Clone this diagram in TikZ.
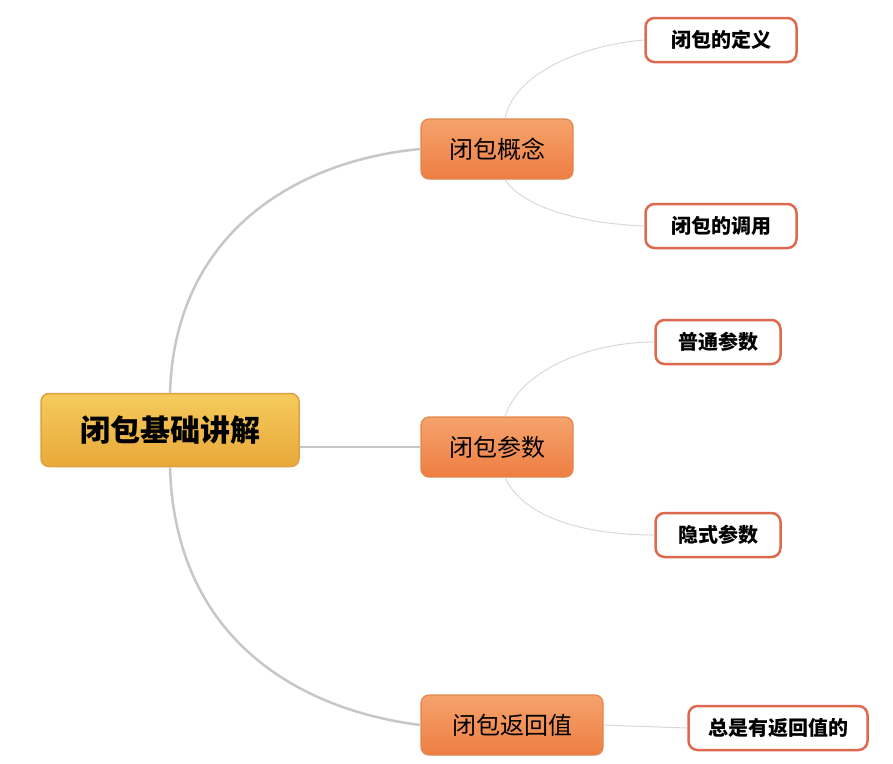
\documentclass[tikz,border=0pt]{standalone}
\usepackage{fontspec}
\newfontfamily\cjk{Noto Sans CJK SC}
\definecolor{rootA}{HTML}{F5CB5C}
\definecolor{rootB}{HTML}{E8A93A}
\definecolor{rootD}{HTML}{E0A040}
\definecolor{midA}{HTML}{F5A36C}
\definecolor{midB}{HTML}{EE7E42}
\definecolor{midD}{HTML}{E0864F}
\definecolor{leafD}{HTML}{DD6A4E}
\begin{document}
\begin{tikzpicture}[x=1pt,y=-1pt,
 rootbox/.style={draw=rootD,line width=1.5pt,rounded corners=8pt,top color=rootA,bottom color=rootB,minimum width=258pt,minimum height=73pt,font=\cjk\fontsize{30}{30}\selectfont\bfseries},
 midbox/.style={draw=midD,line width=1.2pt,rounded corners=8pt,top color=midA,bottom color=midB,minimum height=60pt,font=\cjk\fontsize{24}{24}\selectfont},
 leafbox/.style={draw=leafD,line width=2.5pt,rounded corners=9pt,fill=white,minimum width=125pt,minimum height=44pt,font=\cjk\fontsize{20}{20}\selectfont\bfseries},
 thick1/.style={draw=black!22,line width=2.5pt},
 thin1/.style={draw=black!15,line width=1pt}]
\useasboundingbox (0,0) rectangle (893,763);
\node[rootbox] (r) at (170,430) {闭包基础讲解};
\node[midbox,minimum width=152pt] (a) at (497,149) {闭包概念};
\node[midbox,minimum width=152pt] (b) at (497,447) {闭包参数};
\node[midbox,minimum width=182pt] (c) at (512,725) {闭包返回值};
\node[leafbox,minimum width=151pt] (a1) at (721,40) {闭包的定义};
\node[leafbox,minimum width=151pt] (a2) at (721,226) {闭包的调用};
\node[leafbox] (b1) at (718,342) {普通参数};
\node[leafbox] (b2) at (718,535) {隐式参数};
\node[leafbox,minimum width=179pt] (c1) at (778,728) {总是有返回值的};
\draw[thick1] (r.north) .. controls (175,230) and (300,160) .. (a.west);
\draw[thick1] (r.east |- b.west) -- (b.west);
\draw[thick1] (r.south) .. controls (175,640) and (300,710) .. (c.west);
\draw[thin1] ([xshift=8pt]a.north) .. controls (515,70) and (590,44) .. (a1.west);
\draw[thin1] ([xshift=8pt]a.south) .. controls (525,210) and (590,224) .. (a2.west);
\draw[thin1] ([xshift=8pt]b.north) .. controls (520,370) and (590,342) .. (b1.west);
\draw[thin1] ([xshift=8pt]b.south) .. controls (525,520) and (590,535) .. (b2.west);
\draw[thin1] (c.east) -- (c1.west);
\end{tikzpicture}
\end{document}
